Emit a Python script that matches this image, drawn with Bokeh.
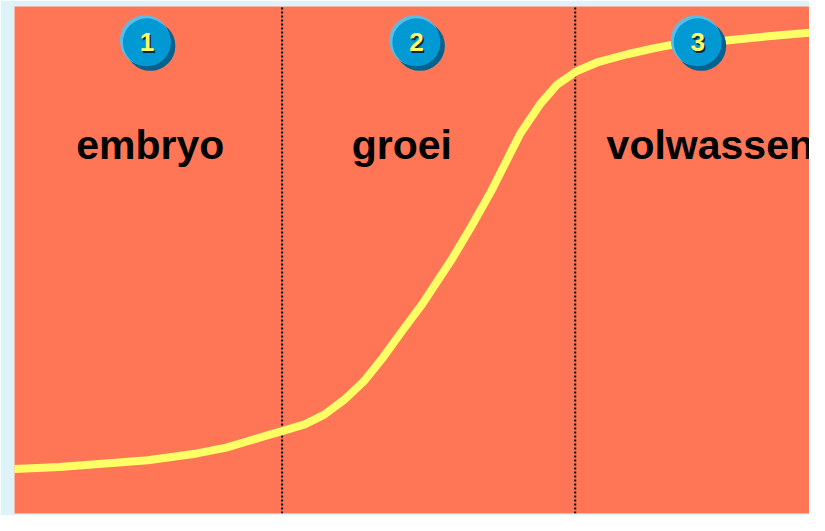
from bokeh.plotting import figure
from bokeh.models import Range1d, ColumnDataSource
from bokeh.core.properties import value
from bokeh.embed import file_html
from bokeh.resources import INLINE

# ---- data (x = time 0..100, y = level 0..100) ----
curve_x = [0, 5.67, 10.60, 16.77, 22.93, 26.63, 29.10, 31.57, 33.66, 36.50, 38.96,
           41.43, 43.90, 46.36, 48.83, 51.29, 54.99, 57.46, 59.93, 61.16, 63.63,
           66.09, 68.19, 70.65, 73.49, 77.19, 80.52, 82.98, 89.52, 94.45, 100]
curve_y = [8.80, 9.18, 9.75, 10.52, 11.85, 13.00, 14.15, 15.30, 16.25, 17.59, 19.50,
           22.37, 26.00, 30.78, 36.14, 41.30, 50.10, 56.60, 63.48, 67.30, 74.95,
           80.69, 84.51, 87.19, 89.10, 90.63, 91.78, 92.54, 93.31, 94.07, 94.84]
phase_bounds = [33.66, 70.53]
phase_names = ["embryo", "groei", "volwassen"]
phase_numbers = ["1", "2", "3"]
badge_x = [16.65, 50.55, 85.94]
badge_y = [92.93, 92.93, 92.93]
label_x = [7.77, 42.42, 74.48]
label_y = [72.66, 72.66, 72.66]

# ---- styles ----
BG = "#FF7656"
BORDER = "#DDF3F8"
YELLOW = "#FFFF66"
BLUE = "#0099D4"
BLUE_LIGHT = "#5BBDE6"
BLUE_DARK = "#00628F"

W, H = 809, 515
BL, BT, BB = 14, 6, 2
FW, FH = W - BL, H - BT - BB
PX = 100.0 / FW   # data units per screen pixel (x)
PY = 100.0 / FH   # data units per screen pixel (y)

p = figure(width=W, height=H, output_backend="svg", toolbar_location=None,
           x_range=Range1d(0, 100), y_range=Range1d(0, 100),
           min_border_left=BL, min_border_right=0, min_border_top=BT, min_border_bottom=BB,
           background_fill_color=BG, border_fill_color=BORDER)
p.axis.visible = False
p.grid.visible = False
p.outline_line_color = None

# phase dividers (dotted)
for b in phase_bounds:
    p.line([b, b], [0, 100], line_color="black", line_width=2, line_dash="2 2")

# S-curve
p.line(curve_x, curve_y, line_color=YELLOW, line_width=8, line_cap="round", line_join="round")

# phase labels
p.text(x=label_x, y=label_y, text=phase_names, text_color="black",
       text_font=value("Liberation Sans"), text_font_style="bold",
       text_font_size="41px", text_align="left", text_baseline="alphabetic")

# badges: dark shadow (bottom-right), light rim (top-left), main disc
shadow = ColumnDataSource(dict(x=[v + 3.5 * PX for v in badge_x], y=[v - 3.5 * PY for v in badge_y]))
rim = ColumnDataSource(dict(x=[v - 2 * PX for v in badge_x], y=[v + 2 * PY for v in badge_y]))
src = ColumnDataSource(dict(x=badge_x, y=badge_y, t=phase_numbers))
p.circle(x="x", y="y", source=shadow, radius=25, radius_units="screen",
         fill_color=BLUE_DARK, line_color=None)
p.circle(x="x", y="y", source=rim, radius=25, radius_units="screen",
         fill_color=BLUE_LIGHT, line_color=None)
p.circle(x="x", y="y", source=src, radius=24, radius_units="screen",
         fill_color=BLUE, line_color=None)
p.text(x="x", y="y", text="t", source=src, text_color="#0A2A40",
       text_font=value("Liberation Sans"), text_font_style="bold",
       text_font_size="26px", text_align="center", text_baseline="middle",
       x_offset=1.5, y_offset=2)
p.text(x="x", y="y", text="t", source=src, text_color=YELLOW,
       text_font=value("Liberation Sans"), text_font_style="bold",
       text_font_size="26px", text_align="center", text_baseline="middle")

open("out.html", "w").write(file_html(p, INLINE))
